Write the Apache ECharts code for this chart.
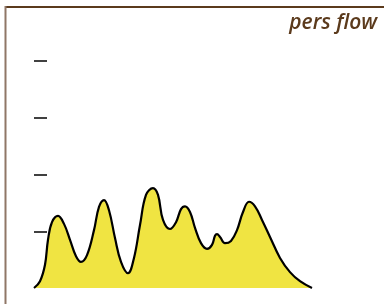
<!DOCTYPE html>
<html>
    <head>
        <meta charset="utf-8">
        <script src="https://cdn.jsdelivr.net/npm/echarts@6/dist/echarts.min.js"></script>
        <style>
            body { margin: 0; background: #fff; }
        </style>
    </head>
    <body>
        <div id="main" style="width: 384px; height: 304px"></div>
        <script type="text/javascript">

            // position along the flow (arbitrary units) and estimated density
            const xs = [0, 6, 11, 14, 18, 24, 30, 36, 42, 47, 53, 60, 65, 70, 75, 81, 87, 94,
                        100, 106, 112, 119, 124, 129, 136, 142, 147, 151, 156, 161, 167, 173,
                        178, 181, 183, 186, 191, 197, 203, 209, 215, 221, 228, 236, 246, 256, 266, 278];
            const density = [0, 0.12, 0.41, 0.85, 1.16, 1.27, 1.13, 0.85, 0.56, 0.46, 0.58, 1.02, 1.43, 1.55, 1.37, 0.88, 0.46, 0.26,
                             0.53, 1.11, 1.64, 1.76, 1.64, 1.20, 1.04, 1.16, 1.39, 1.44, 1.34, 1.06, 0.79, 0.69,
                             0.76, 0.92, 0.95, 0.90, 0.79, 0.83, 1.02, 1.34, 1.52, 1.44, 1.20, 0.90, 0.53, 0.28, 0.12, 0];
            const yTicks = [1, 2, 3, 4];

            const points = xs.map((x, i) => [x, density[i]]);

            var chartDom = document.getElementById('main');
            var myChart = echarts.init(chartDom);
            var option;

            option = {
                animation: false,
                title: {
                    text: 'pers flow',
                    right: 2,
                    top: 8,
                    textStyle: {
                        fontFamily: 'Open Sans',
                        fontStyle: 'italic',
                        fontWeight: 600,
                        fontSize: 21,
                        color: '#5b3a1c'
                    }
                },
                graphic: [
                    { type: 'line', shape: { x1: 5, y1: 7, x2: 384, y2: 7 }, style: { stroke: '#5b3a1c', lineWidth: 2 } },
                    { type: 'line', shape: { x1: 5.5, y1: 6, x2: 5.5, y2: 304 }, style: { stroke: '#8f7767', lineWidth: 2 } }
                ],
                grid: { left: 34, right: 72, top: 61, bottom: 16 },
                xAxis: {
                    type: 'value',
                    min: 0,
                    max: 278,
                    show: false
                },
                yAxis: {
                    type: 'value',
                    min: 0,
                    max: 4,
                    interval: 1,
                    offset: 2,
                    axisLine: { show: false },
                    axisLabel: { show: false },
                    splitLine: { show: false },
                    axisTick: {
                        show: true,
                        inside: true,
                        length: 13,
                        customValues: yTicks,
                        lineStyle: { color: '#111', width: 1.6 }
                    }
                },
                series: [{
                    type: 'line',
                    data: points,
                    smooth: 0.4,
                    symbol: 'none',
                    lineStyle: { color: '#000', width: 2.2 },
                    areaStyle: { color: '#f0e442', opacity: 1 }
                }]
            };

            option && myChart.setOption(option);

        </script>
    </body>
</html>
